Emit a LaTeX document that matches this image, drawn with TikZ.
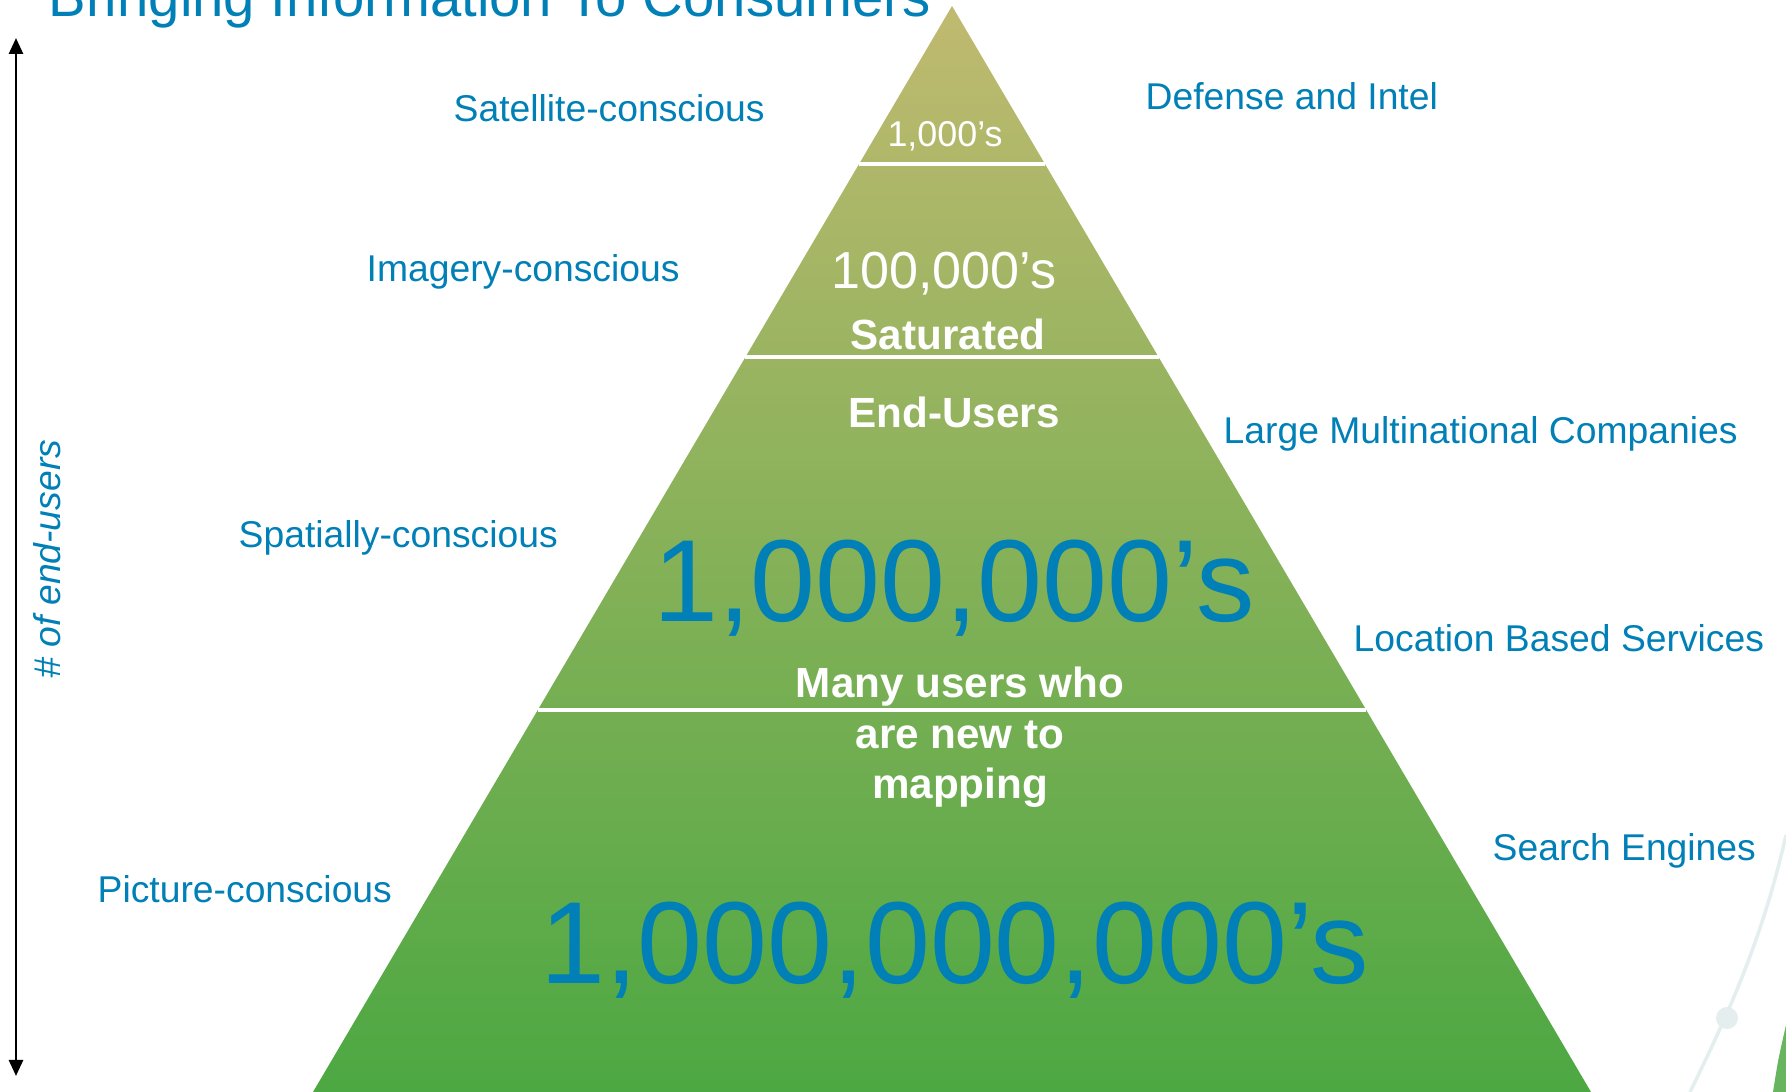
\documentclass[tikz,border=0pt]{standalone}
\usepackage{fontspec}
\setmainfont{Liberation Sans}
\usetikzlibrary{arrows.meta}

\begin{document}
\begin{tikzpicture}[x=0.01cm, y=-0.01cm,
    lbl/.style={font=\fontsize{10.6}{12}\selectfont, text=infoblue, inner sep=0pt, anchor=base west},
    whitenum/.style={text=white, inner sep=0pt, anchor=base},
    whitebold/.style={font=\fontsize{12}{14}\selectfont\bfseries, text=white, inner sep=0pt, anchor=base},
    bignum/.style={font=\fontsize{33.2}{36}\selectfont, text=infoblue, inner sep=0pt, anchor=base},
    divider/.style={white, line width=1.1pt}]
    % Define colors
    \definecolor{infoblue}{RGB}{0, 128, 182}
    \definecolor{pyrtop}{RGB}{192, 186, 112}
    \definecolor{pyrbottom}{RGB}{76, 168, 66}
    \definecolor{decoline}{RGB}{228, 238, 238}

    \useasboundingbox (0, 0) rectangle (1786, 1092);

    % Title (cut off at the top)
    \node[font=\fontsize{16}{18}\selectfont, text=infoblue, inner sep=0pt, anchor=base west] (title) at (48, 17) {Bringing Information To Consumers};

    % Pyramid
    \shade[top color=pyrtop, bottom color=pyrbottom] (952, 6) -- (1591, 1092) -- (313, 1092) -- cycle;
    \draw[divider] (859, 164) -- (1045, 164);
    \draw[divider] (745, 357) -- (1159, 357);
    \draw[divider] (538, 710) -- (1366, 710);

    % Pyramid texts
    \node[whitenum, font=\fontsize{10.2}{12}\selectfont] (thousands) at (945, 147) {1,000’s};
    \node[whitenum, font=\fontsize{14.8}{17}\selectfont] (hundredk) at (944, 289) {100,000’s};
    \node[whitebold] (saturated) at (948, 350) {Saturated};
    \node[whitebold] (endusers) at (954, 428) {End-Users};
    \node[bignum] (millions) at (954, 621) {1,000,000’s};
    \foreach \txt/\yy [count=\i] in {Many users who/697, are new to/748, mapping/798}
        \node[whitebold] (many\i) at (960, \yy) {\txt};
    \node[bignum] (billions) at (955, 983) {1,000,000,000’s};

    % Left labels
    \node[lbl] (satellite) at (453, 122) {Satellite-conscious};
    \node[lbl] (imagery) at (366, 282) {Imagery-conscious};
    \node[lbl] (spatially) at (238, 548) {Spatially-conscious};
    \node[lbl] (picture) at (97, 902) {Picture-conscious};

    % Right labels
    \node[lbl] (defense) at (1145, 110) {Defense and Intel};
    \node[lbl] (multinational) at (1223, 444) {Large Multinational Companies};
    \node[lbl] (location) at (1353, 651) {Location Based Services};
    \node[lbl] (search) at (1492, 860) {Search Engines};

    % Axis of end-users
    \coordinate (axistop) at (16, 38);
    \coordinate (axisbottom) at (16, 1076);
    \draw[{Triangle[length=0.16cm, width=0.14cm]}-{Triangle[length=0.16cm, width=0.14cm]}, line width=0.75pt] (axistop) -- (axisbottom);
    \node[font=\fontsize{10.6}{12}\selectfont\itshape, text=infoblue, rotate=90, inner sep=0pt] (axislabel) at (47, 559) {\# of end-users};

    % Background decoration, bottom right
    \draw[decoline, line width=1pt] (1690, 1092) .. controls (1720, 1030) and (1760, 950) .. (1786, 835);
    \fill[decoline] (1727, 1018) circle[radius=11];
    \fill[pyrbottom!85!white] (1773, 1092) .. controls (1778, 1060) .. (1786, 1025) -- (1786, 1092) -- cycle;
\end{tikzpicture}
\end{document}
